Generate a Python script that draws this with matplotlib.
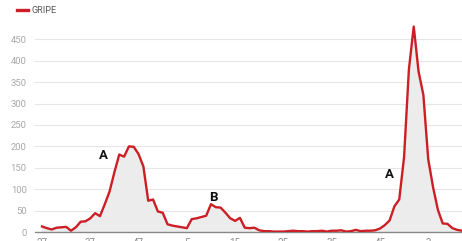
import numpy as np
import matplotlib.pyplot as plt

# weekly flu cases, starting at week 27
weeks = [27, 28, 29, 30, 31, 32, 33, 34, 35, 36, 37, 38, 39, 40, 41, 42, 43, 44, 45, 46,
         47, 48, 49, 50, 51, 52, 1, 2, 3, 4, 5, 6, 7, 8, 9, 10, 11, 12, 13, 14,
         15, 16, 17, 18, 19, 20, 21, 22, 23, 24, 25, 26, 27, 28, 29, 30, 31, 32, 33, 34,
         35, 36, 37, 38, 39, 40, 41, 42, 43, 44, 45, 46, 47, 48, 49, 50, 51, 52, 1, 2,
         3, 4, 5, 6, 7, 8, 9, 10]
gripe = [13, 9, 6, 10, 11, 12, 3, 11, 24, 25, 32, 44, 37, 65, 95, 140, 181, 176, 200, 199,
         182, 153, 73, 76, 48, 45, 18, 15, 13, 11, 9, 30, 32, 35, 38, 65, 58, 57, 45, 32,
         26, 33, 10, 9, 10, 4, 2, 2, 1, 1, 1, 2, 3, 2, 2, 1, 2, 2, 3, 1,
         3, 3, 4, 1, 2, 5, 2, 3, 3, 4, 8, 16, 27, 60, 76, 175, 380, 480, 375, 320,
         170, 105, 52, 20, 19, 9, 5, 3]
tick_idx = [0, 10, 20, 30, 40, 50, 60, 70, 80]
tick_labels = [str(weeks[i]) for i in tick_idx]
notes = [("A", 12.8, 178), ("B", 35.6, 80), ("A", 72, 135)]

plt.rcParams['font.family'] = ['Roboto', 'DejaVu Sans']

fig = plt.figure(figsize=(4.62, 2.41), dpi=100)
ax = fig.add_axes([0.0758, 0.0373, 0.9242, 0.897])

x = np.arange(len(gripe))
ax.fill_between(x, gripe, 0, color='#ececec', zorder=1)
ax.plot(x, gripe, color='#cc1f25', linewidth=1.7, label='GRIPE', zorder=3)

for txt, xi, yi in notes:
    ax.text(xi, yi, txt, fontsize=9.5, fontweight='bold', color='#111111',
            ha='center', va='center', zorder=4)

ax.set_xlim(-1.45, 87)
ax.set_ylim(0, 505)
ax.set_yticks(range(0, 451, 50))
ax.set_xticks(tick_idx)
ax.set_xticklabels(tick_labels)
ax.tick_params(axis='y', length=0, pad=6, labelsize=6.8, labelcolor='#a8a8a8')
ax.tick_params(axis='x', length=0, pad=4, labelsize=7, labelcolor='#8a8a8a')
ax.grid(axis='y', color='#e6e6e6', linewidth=0.8, zorder=0)
ax.set_axisbelow(True)
for s in ['top', 'right', 'left']:
    ax.spines[s].set_visible(False)
ax.spines['bottom'].set_color('#888888')
ax.spines['bottom'].set_linewidth(1)

leg = fig.legend(loc='upper left', bbox_to_anchor=(0.018, 1.01), frameon=False,
                 fontsize=6.6, handlelength=1.2, handletextpad=0.4)
for t in leg.get_texts():
    t.set_color('#555555')
for l in leg.get_lines():
    l.set_linewidth(2.4)

fig.savefig('out.png', dpi=100)
